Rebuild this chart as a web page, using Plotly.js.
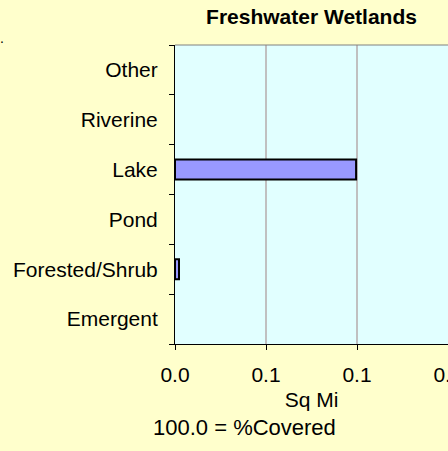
<!DOCTYPE html>
<html>
<head>
<meta charset="utf-8">
<script src="https://cdn.plot.ly/plotly-3.0.1.min.js"></script>
<style>
html,body{margin:0;padding:0;overflow:hidden;background:#FFFFCC;width:448px;height:451px;}
#chart{width:470px;height:451px;}
</style>
</head>
<body>
<div id="chart"></div>
<script>
const categories = ["Emergent", "Forested/Shrub", "Pond", "Lake", "Riverine", "Other"];
const sqMi = [0, 0.0022, 0, 0.0995, 0, 0];
const xTickValues = [0, 0.05, 0.1, 0.15];
const chartTitle = "Freshwater Wetlands";
const xTitle = "Sq Mi";
const coveredNote = "100.0 = %Covered";

const font = {family: "Liberation Sans, Arial, sans-serif", color: "#000000", size: 21};

// plot area in pixels (for converting text placements to paper coords)
const PL = 175, PR = 448, PT = 45, PB = 344;
const px2x = p => (p - PL) / (PR - PL);
const px2y = p => (PB - p) / (PB - PT);

const trace = {
  type: "bar",
  orientation: "h",
  y: categories,
  x: sqMi,
  marker: {color: "#9999FF", line: {color: "#000000", width: sqMi.map(v => v > 0 ? 2 : 0)}},
  hoverinfo: "skip"
};

const layout = {
  width: 470,
  height: 451,
  paper_bgcolor: "#FFFFCC",
  plot_bgcolor: "#E1FFFF",
  font: font,
  showlegend: false,
  bargap: 0.6,
  margin: {l: PL, r: 470 - PR, t: PT, b: 451 - PB, pad: 0},
  title: {
    text: "<b>" + chartTitle + "</b>",
    font: {family: font.family, size: 21, color: "#000000"},
    x: 0.5, xref: "paper", xanchor: "center",
    y: 1 - 17 / 451, yref: "container", yanchor: "middle"
  },
  xaxis: {
    range: [0, 0.15],
    tickvals: xTickValues,
    tickformat: ".1f",
    ticks: "outside",
    ticklen: 5,
    tickwidth: 1,
    tickcolor: "#000000",
    showline: true,
    linecolor: "#000000",
    linewidth: 1,
    showgrid: true,
    gridcolor: "#C0C0C0",
    gridwidth: 2,
    zeroline: false,
    fixedrange: true,
    tickfont: font,
    ticklabelstandoff: 7,
    title: {text: xTitle, font: font, standoff: 7}
  },
  yaxis: {
    type: "category",
    categoryorder: "array",
    categoryarray: categories,
    ticks: "outside",
    tickson: "boundaries",
    ticklen: 5,
    tickwidth: 1,
    tickcolor: "#000000",
    showline: true,
    linecolor: "#000000",
    linewidth: 1,
    showgrid: false,
    zeroline: false,
    fixedrange: true,
    tickfont: font,
    ticklabelstandoff: 12
  },
  shapes: [
    {type: "line", xref: "paper", yref: "paper", x0: 0, x1: 1, y0: 1, y1: 1,
     line: {color: "#808080", width: 1}}
  ],
  annotations: [
    {text: coveredNote, xref: "paper", yref: "paper", x: px2x(338), y: px2y(427),
     xanchor: "right", yanchor: "middle", showarrow: false,
     font: {family: font.family, size: 22, color: "#000000"}},
    {text: ".", xref: "paper", yref: "paper", x: px2x(-2), y: px2y(38),
     xanchor: "left", yanchor: "middle", showarrow: false, font: {family: font.family, size: 14, color: "#000000"}}
  ]
};

Plotly.newPlot("chart", [trace], layout, {displayModeBar: false, staticPlot: true});
</script>
</body>
</html>
